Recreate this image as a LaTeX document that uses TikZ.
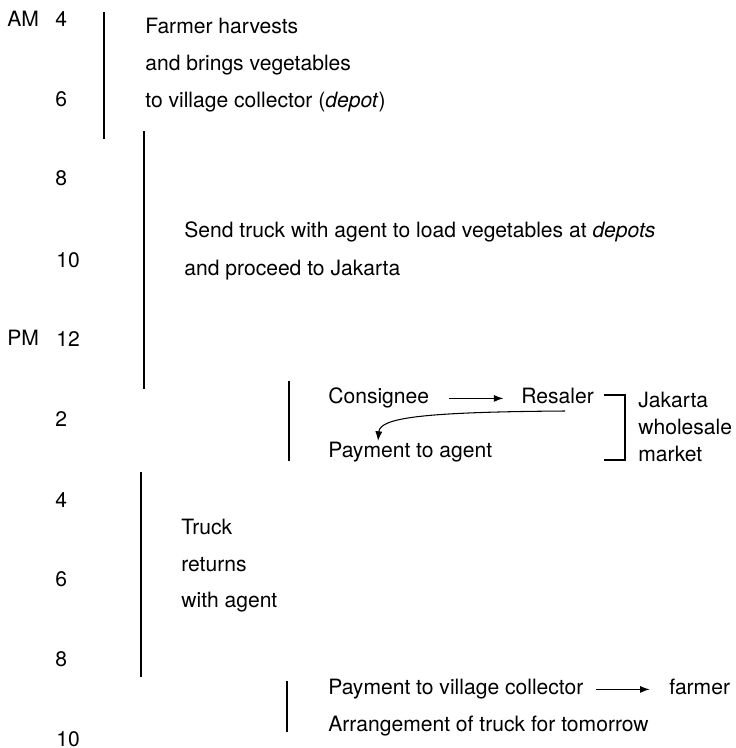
\documentclass[tikz,border=0pt]{standalone}
\usepackage{fontspec}
\setmainfont{TeX Gyre Heros}
\usetikzlibrary{positioning, arrows.meta}

\tikzset{
  hour/.style={anchor=base west, inner sep=0pt},
  txt/.style={anchor=base west, inner sep=0pt},
  bar/.style={line width=1.5pt},
  flow/.style={-{Latex[length=5.5pt, width=4pt]}, line width=0.6pt}
}

\begin{document}
\begin{tikzpicture}[x=0.02cm, y=-0.02cm, font=\fontsize{12}{14}\selectfont]
        \useasboundingbox (0, 0) rectangle (736, 748);
        % clock
        \node[hour] (am) at (7, 26) {AM};
        \node[hour] (h4a) at (55, 26) {4};
        \node[hour] (h6a) at (55, 106) {6};
        \node[hour] (h8a) at (55, 185) {8};
        \node[hour] (h10a) at (56, 267) {10};
        \node[hour] (pm) at (7, 345) {PM};
        \node[hour] (h12) at (56, 346) {12};
        \node[hour] (h2p) at (55, 426) {2};
        \node[hour] (h4p) at (55, 507) {4};
        \node[hour] (h6p) at (55, 586) {6};
        \node[hour] (h8p) at (55, 666) {8};
        \node[hour] (h10p) at (56, 746) {10};
        % bars
        \draw[bar] (104, 12) -- (104, 139);
        \draw[bar] (144, 131) -- (144, 389);
        \draw[bar] (289, 381) -- (289, 461);
        \draw[bar] (141, 472) -- (141, 677);
        \draw[bar] (287, 681) -- (287, 732);
        % farmer
        \node[txt] (farm1) at (145, 33) {Farmer harvests};
        \node[txt] (farm2) at (145, 70) {and brings vegetables};
        \node[txt] (farm3) at (145, 107) {to village collector (\textit{depot})};
        % truck out
        \node[txt] (send1) at (184, 237) {Send truck with agent to load vegetables at \textit{depots}};
        \node[txt] (send2) at (184, 275) {and proceed to Jakarta};
        % market
        \node[txt] (consignee) at (328, 403) {Consignee};
        \node[txt] (resaler) at (521, 403) {Resaler};
        \node[txt] (payagent) at (328, 457) {Payment to agent};
        \node[txt] (jakarta) at (638, 407) {Jakarta};
        \node[txt] (wholesale) at (638, 434) {wholesale};
        \node[txt] (market) at (638, 461) {market};
        \coordinate (payfrom) at (565, 411);
        \coordinate (payto) at (378, 441);
        \draw[flow, shorten <=11pt, shorten >=10pt] (consignee.mid east) -- (resaler.mid west);
        \draw[flow] (payfrom) .. controls (420, 412) and (380, 418) .. (payto);
        \draw[line width=0.6pt] (604, 395) -- (625, 395) -- (625, 460) -- (604, 460);
        % truck back
        \node[txt] (truck1) at (181, 534) {Truck};
        \node[txt] (truck2) at (181, 571) {returns};
        \node[txt] (truck3) at (181, 607) {with agent};
        % evening
        \node[txt] (paycoll) at (328, 694) {Payment to village collector};
        \node[txt] (farmer) at (669, 694) {farmer};
        \node[txt] (arrange) at (328, 731) {Arrangement of truck for tomorrow};
        \draw[flow, shorten <=7pt, shorten >=11pt] (paycoll.mid east) -- (farmer.mid west);
    \end{tikzpicture}
\end{document}
